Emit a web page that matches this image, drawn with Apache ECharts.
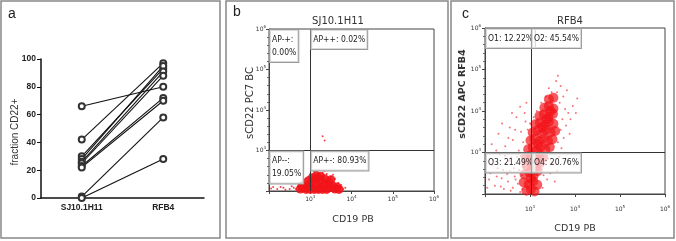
<!DOCTYPE html>
<html>
<head>
<meta charset="utf-8">
<script src="https://cdn.jsdelivr.net/npm/echarts@6/dist/echarts.min.js"></script>
<style>
  html, body { margin: 0; padding: 0; background: #fff; }
  #chart { width: 676px; height: 241px; }
</style>
</head>
<body>
<div id="chart"></div>
<script>
// panel a: paired fraction CD22+ per sample
var pairCats = ['SJ10.1H11', 'RFB4'];
var sj10 = [66, 42, 30, 28, 26, 25, 23, 22, 1, 0];
var rfb4 = [80, 97, 93, 95, 91, 88, 72, 70, 58, 28];
var pctTicks = [0, 20, 40, 60, 80, 100];

// panels b/c: log10 fluorescence (decades), [CD19, sCD22]
var decades = [2, 3, 4, 5, 6];
var bGate = [3, 3];
var cGate = [3.02, 3];
var bQuad = ['AP-+:\n0.00%', 'AP++: 0.02%', 'AP--:\n19.05%', 'AP+-: 80.93%'];
var cQuad = ['O1: 12.22%', 'O2: 45.54%', 'O3: 21.49%', 'O4: 20.76%'];

var bCore = [[2.85, 2.1], [2.95, 2.15], [3.05, 2.1], [3.05, 2.25], [3.15, 2.15], [3.15, 2.3],
  [3.25, 2.1], [3.25, 2.25], [3.25, 2.36], [3.35, 2.15], [3.35, 2.3], [3.45, 2.1], [3.45, 2.22],
  [3.55, 2.12], [3.0, 2.04], [3.1, 2.04], [3.2, 2.04], [3.3, 2.04], [3.4, 2.04], [2.9, 2.04],
  [3.6, 2.05], [3.15, 2.38], [3.05, 2.33], [2.95, 2.25], [3.5, 2.28], [2.76, 2.05], [2.8, 2.12],
  [3.65, 2.1], [3.7, 2.04]];
var bSparse = [[2.65, 2.05], [2.7, 2.12], [2.75, 2.18], [2.8, 2.22], [2.72, 2.04], [2.6, 2.08],
  [3.7, 2.1], [3.75, 2.15], [3.8, 2.05], [3.68, 2.2], [3.6, 2.3], [3.5, 2.35], [3.4, 2.42],
  [2.9, 2.3], [2.95, 2.35], [3.0, 2.42], [3.3, 2.45], [2.5, 2.05], [2.35, 2.08], [2.2, 2.05],
  [2.1, 2.1], [2.4, 2.03], [3.85, 2.08], [3.55, 2.4], [3.35, 2.5], [3.2, 2.52], [3.1, 2.48],
  [2.85, 2.28], [3.35, 3.25], [3.3, 3.35], [2.05, 2.06], [2.28, 2.1], [2.55, 2.12]];

var cCore = [[2.92, 2.08], [3.02, 2.12], [3.1, 2.06], [2.86, 2.28], [2.97, 2.24], [3.07, 2.31],
  [3.16, 2.22], [2.88, 2.47], [2.99, 2.52], [3.08, 2.44], [3.17, 2.55], [2.93, 2.68], [3.03, 2.72],
  [3.12, 2.66], [3.22, 2.74], [2.91, 2.88], [3.01, 2.93], [3.11, 2.86], [3.2, 2.95], [3.29, 2.9],
  [2.96, 3.08], [3.06, 3.12], [3.15, 3.05], [3.24, 3.14], [3.34, 3.08], [3.44, 3.13],
  [3.01, 3.29], [3.1, 3.33], [3.2, 3.27], [3.31, 3.34], [3.4, 3.28], [3.5, 3.32],
  [3.06, 3.48], [3.16, 3.53], [3.26, 3.46], [3.36, 3.55], [3.46, 3.49], [3.56, 3.52],
  [3.12, 3.68], [3.22, 3.72], [3.32, 3.66], [3.42, 3.74], [3.52, 3.69],
  [3.21, 3.88], [3.31, 3.92], [3.41, 3.86], [3.51, 3.93],
  [3.32, 4.08], [3.42, 4.12], [3.52, 4.06], [3.42, 4.28], [3.52, 4.32],
  [3.02, 2.38], [3.12, 2.78], [3.18, 3.2], [3.27, 3.6], [3.37, 3.8], [3.46, 4.0]];
var cSparse = [[2.05, 2.15], [2.12, 2.5], [2.18, 2.82], [2.22, 2.2], [2.28, 2.62], [2.33, 2.95],
  [2.37, 2.38], [2.42, 2.12], [2.46, 2.72], [2.51, 2.3], [2.55, 2.55], [2.58, 2.88], [2.62, 2.15],
  [2.66, 2.42], [2.69, 2.75], [2.73, 2.25], [2.76, 2.58], [2.79, 2.92], [2.83, 2.12], [2.82, 2.45],
  [2.78, 2.05], [2.71, 2.9], [2.64, 2.62], [2.57, 2.08], [2.49, 2.48], [2.44, 2.92], [2.35, 2.18],
  [2.26, 2.42], [2.16, 2.7], [2.09, 2.35], [2.4, 2.58], [2.53, 2.8], [2.68, 2.35], [2.87, 2.65],
  [2.8, 2.78],
  [2.15, 3.2], [2.3, 3.45], [2.45, 3.15], [2.55, 3.6], [2.62, 3.3], [2.7, 3.85], [2.75, 3.05],
  [2.8, 3.5], [2.85, 3.25], [2.9, 3.75], [2.88, 3.95], [2.67, 3.55], [2.52, 3.35], [2.38, 3.7],
  [2.25, 3.05], [2.78, 4.1], [2.92, 4.2], [2.6, 3.95],
  [3.55, 2.3], [3.6, 2.55], [3.5, 2.75], [3.65, 2.9], [3.7, 3.1], [3.62, 3.25], [3.75, 3.35],
  [3.68, 3.55], [3.8, 3.65], [3.72, 3.8], [3.85, 3.95], [3.78, 4.05], [3.66, 4.2], [3.74, 4.35],
  [3.6, 4.45], [3.68, 4.6], [3.58, 4.72], [3.62, 4.85], [3.9, 3.8], [3.95, 4.12], [4.02, 3.95],
  [3.88, 3.45], [3.45, 2.5], [3.4, 2.85], [3.38, 2.35], [3.28, 2.15], [3.3, 2.45], [3.25, 2.6],
  [3.48, 4.45], [3.42, 4.55], [3.35, 4.35], [3.25, 4.2], [3.15, 4.0], [3.08, 3.85], [3.0, 3.7],
  [2.95, 3.55], [4.05, 4.3], [3.82, 4.5]];

var RED = '#f2141a';
var flowFont = '"DejaVu Sans", Verdana, sans-serif';
var chart = echarts.init(document.getElementById('chart'));

function logAxis(grid, isX, gap) {
  return {
    type: 'value', gridIndex: grid, min: decades[0], max: decades[decades.length - 1], interval: 1,
    axisLine: { lineStyle: { color: '#444', width: 1 } },
    axisTick: { length: 3, lineStyle: { color: '#444' } },
    minorTick: { show: !isX, splitNumber: 5, length: 2, lineStyle: { color: '#666' } },
    splitLine: { show: false },
    axisLabel: {
      margin: gap, color: '#333',
      formatter: function (v) { return v === decades[0] ? '' : '{b|10}{s|' + v + '}'; },
      rich: {
        b: { fontSize: 6, fontFamily: flowFont, color: '#333' },
        s: { fontSize: 4, fontFamily: flowFont, color: '#333', padding: [0, 0, 5, 0] }
      }
    }
  };
}

function gateLine(g) {
  return {
    silent: true, symbol: 'none', label: { show: false },
    lineStyle: { color: '#333', width: 1, type: 'solid' },
    data: [{ xAxis: g[0] }, { yAxis: g[1] }]
  };
}

var series = [];
// panel a lines
for (var i = 0; i < sj10.length; i++) {
  series.push({
    type: 'line', xAxisIndex: 0, yAxisIndex: 0,
    data: [sj10[i], rfb4[i]],
    symbol: 'emptyCircle', symbolSize: 6,
    lineStyle: { color: '#111', width: 1.1 },
    itemStyle: { color: '#333', borderWidth: 0.9 }
  });
}
// panels b/c scatter clouds
series.push(
  { type: 'scatter', xAxisIndex: 1, yAxisIndex: 1, data: bCore, symbolSize: 9,
    itemStyle: { color: RED, opacity: 0.9 }, markLine: gateLine(bGate) },
  { type: 'scatter', xAxisIndex: 1, yAxisIndex: 1, data: bSparse, symbolSize: 2,
    itemStyle: { color: RED, opacity: 0.8 } },
  { type: 'scatter', xAxisIndex: 2, yAxisIndex: 2, data: cCore, symbolSize: 10,
    itemStyle: { color: RED, opacity: 0.7 }, markLine: gateLine(cGate) },
  { type: 'scatter', xAxisIndex: 2, yAxisIndex: 2, data: cSparse, symbolSize: 2,
    itemStyle: { color: RED, opacity: 0.6 } }
);

function txt(x, y, s, font, opts) {
  var o = opts || {};
  return {
    type: 'text', x: x, y: y, rotation: o.rot || 0, z: 50,
    style: { text: s, font: font, fill: o.fill || '#333', align: o.align || 'center',
      verticalAlign: o.va || 'middle' }
  };
}

function staticGraphics() {
  return [
    { type: 'rect', shape: { x: 1, y: 1, width: 219, height: 237 }, style: { fill: 'none', stroke: '#888', lineWidth: 1.5 } },
    { type: 'rect', shape: { x: 226, y: 1, width: 222, height: 237 }, style: { fill: 'none', stroke: '#888', lineWidth: 1.5 } },
    { type: 'rect', shape: { x: 451, y: 1, width: 223, height: 237 }, style: { fill: 'none', stroke: '#888', lineWidth: 1.5 } },
    txt(8, 14, 'a', '14px "Liberation Sans", Arial', { align: 'left', fill: '#222' }),
    txt(233, 12, 'b', '14px "Liberation Sans", Arial', { align: 'left', fill: '#222' }),
    txt(462, 14, 'c', '14px "Liberation Sans", Arial', { align: 'left', fill: '#222' }),
    txt(15, 132, 'fraction CD22+', '10px "Liberation Sans", Arial', { rot: Math.PI / 2 }),
    txt(338, 21, 'SJ10.1H11', '10px ' + flowFont),
    txt(570, 21, 'RFB4', '10px ' + flowFont),
    txt(353, 220, 'CD19 PB', '9.5px ' + flowFont),
    txt(575, 229, 'CD19 PB', '9.5px ' + flowFont),
    txt(250, 103, 'sCD22 PC7 BC', '10px ' + flowFont, { rot: Math.PI / 2 }),
    txt(463, 94, 'sCD22 APC RFB4', 'bold 9.5px ' + flowFont, { rot: Math.PI / 2 })
  ];
}

chart.setOption({
  animation: false,
  backgroundColor: '#fff',
  grid: [
    { left: 41, top: 59, width: 163, height: 139 },
    { left: 269, top: 29, width: 165, height: 162, show: true, borderColor: '#444', borderWidth: 1 },
    { left: 485, top: 28, width: 180, height: 166, show: true, borderColor: '#444', borderWidth: 1 }
  ],
  xAxis: [
    { type: 'category', gridIndex: 0, data: pairCats,
      axisLine: { lineStyle: { color: '#111', width: 1.5 } },
      axisTick: { alignWithLabel: true, length: 4, lineStyle: { color: '#111' } },
      axisLabel: { margin: 5, color: '#222', fontSize: 8.5, fontWeight: 'bold', fontFamily: '"Liberation Sans", Arial' } },
    logAxis(1, true, 4),
    logAxis(2, true, 11)
  ],
  yAxis: [
    { type: 'value', gridIndex: 0, min: pctTicks[0], max: pctTicks[pctTicks.length - 1], interval: 20,
      axisLine: { show: true, lineStyle: { color: '#111', width: 1.5 } },
      axisTick: { show: true, length: 4, lineStyle: { color: '#111' } },
      splitLine: { show: false },
      axisLabel: { margin: 5, color: '#222', fontSize: 8.5, fontWeight: 'bold', fontFamily: '"Liberation Sans", Arial' } },
    logAxis(1, false, 3),
    logAxis(2, false, 4)
  ],
  series: series,
  graphic: staticGraphics()
});

// quadrant label boxes, anchored to the gates through the axes
function quadBoxes(grid, gate, labels) {
  var out = [];
  var anchors = [[decades[0], 6], [gate[0], 6], [decades[0], gate[1]], [gate[0], gate[1]]];
  anchors.forEach(function (a, k) {
    var p = chart.convertToPixel({ gridIndex: grid }, a);
    out.push({
      type: 'text', x: p[0] + 1, y: p[1] + 1, z: 60,
      style: {
        text: labels[k], font: '8.5px "DejaVu Sans Condensed", ' + flowFont, fill: '#222',
        align: 'left', verticalAlign: 'top', lineHeight: 13,
        backgroundColor: 'rgba(255,255,255,0.65)', borderColor: '#999', borderWidth: 1,
        padding: [3, 2, 3, 2]
      }
    });
  });
  return out;
}

chart.setOption({
  graphic: staticGraphics().concat(quadBoxes(1, bGate, bQuad), quadBoxes(2, cGate, cQuad))
});
</script>
</body>
</html>
